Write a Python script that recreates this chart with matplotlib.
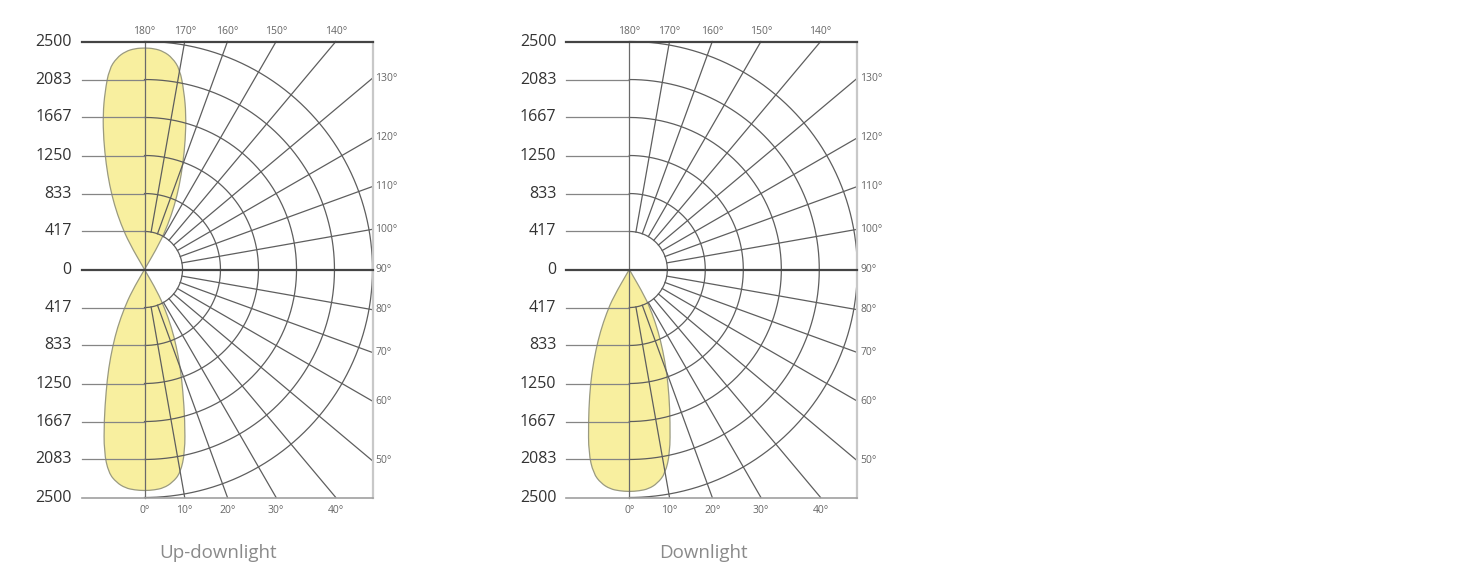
import numpy as np
import matplotlib
matplotlib.use("Agg")
import matplotlib.pyplot as plt
from matplotlib.path import Path
from matplotlib.patches import PathPatch

plt.rcParams['font.family'] = ['Open Sans', 'DejaVu Sans']

# --- data ---
# ring values (cd) and their labels
rings = [417, 833, 1250, 1667, 2083, 2500]
ring_labels = ['417', '833', '1250', '1667', '2083', '2500']
# angle labels (gamma, degrees) 0 = straight down, 180 = straight up
angle_ticks = [0, 10, 20, 30, 40, 50, 60, 70, 80, 90, 100, 110, 120, 130, 140, 150, 160, 170, 180]

# gamma (deg from the lobe axis) and intensity
gamma = [0, 2.5, 5, 7.5, 10, 12.5, 15, 17.5, 20, 22.5, 25, 27.5, 30, 32.5]
updown_lower = [2425, 2420, 2405, 2355, 2265, 2050, 1710, 1400, 1150, 910, 700, 480, 280, 0]
updown_upper = [2430, 2425, 2400, 2340, 2230, 2000, 1760, 1490, 1230, 1000, 780, 560, 330, 0]
down_lower = [2435, 2430, 2415, 2365, 2270, 2060, 1730, 1450, 1200, 960, 750, 540, 350, 0]

titles = ['Up-downlight', 'Downlight']

# --- layout (pixels) ---
W, H = 1484, 577
S = 228 / 2500.0           # pixels per cd
R = 2500
LEFT = -690                # start of the horizontal guide lines
GRID = '#5e5e5e'

fig = plt.figure(figsize=(W / 100, H / 100), dpi=100)


def lobe(ax, g, vals, up=False):
    g = np.radians(np.array(g))
    v = np.array(vals, dtype=float)
    sgn = 1 if up else -1
    # right half from the axis out to the tip, then left half back (skip axis point)
    px = np.concatenate([v * np.sin(g), (-v * np.sin(g))[::-1][:-1]])
    py = sgn * np.concatenate([v * np.cos(g), (v * np.cos(g))[::-1][:-1]])
    pts = np.column_stack([px, py])
    n = len(pts)
    # quadratic B-spline through the read points (smooth outline, pointed tip)
    mids = (pts + np.roll(pts, -1, axis=0)) / 2
    verts = [mids[-1]]
    codes = [Path.MOVETO]
    for i in range(n):
        verts += [pts[i], mids[i]]
        codes += [Path.CURVE3, Path.CURVE3]
    patch = PathPatch(Path(verts, codes), facecolor='#f8ef9f', edgecolor='#9a9a80',
                      lw=0.9, zorder=1)
    ax.add_patch(patch)


def chart(ox, oy, lobes, title):
    x0, x1 = ox - 130, ox + 290
    ax = fig.add_axes([x0 / W, 0, (x1 - x0) / W, 1])
    ax.set_xlim((x0 - ox) / S, (x1 - ox) / S)
    ax.set_ylim(-(H - oy) / S, oy / S)
    ax.axis('off')

    for g, vals, up in lobes:
        lobe(ax, g, vals, up)

    t = np.linspace(0, np.pi, 300)
    for r in rings:
        ax.plot(r * np.sin(t), r * np.cos(t), color=GRID, lw=0.9, zorder=2)
        if r < R:
            for s in (1, -1):
                ax.plot([LEFT, 0], [s * r, s * r], color='#858585', lw=0.9, zorder=2)

    # radial lines
    for a in range(10, 180, 10):
        if a == 90:
            continue
        th = np.radians(a)
        dx, dy = np.sin(th), -np.cos(th)
        tmax = min(R / abs(dx), R / abs(dy))
        ax.plot([417 * dx, tmax * dx], [417 * dy, tmax * dy], color=GRID, lw=0.9, zorder=2)

    ax.plot([0, 0], [-R, R], color='#6a6a6a', lw=0.9, zorder=2)
    ax.plot([R, R], [-R, R], color='#c8c8c8', lw=1.6, zorder=2)
    ax.plot([LEFT, R], [R, R], color='#444444', lw=1.6, zorder=3)
    ax.plot([LEFT, R], [0, 0], color='#444444', lw=1.6, zorder=3)
    ax.plot([LEFT, R], [-R, -R], color='#a0a0a0', lw=1.2, zorder=3)

    # value labels on the left
    lx = LEFT - 10 / S
    ax.text(lx, 0, '0', ha='right', va='center', fontsize=11.5, color='#333333')
    for r, lab in zip(rings, ring_labels):
        for s in (1, -1):
            ax.text(lx, s * r, lab, ha='right', va='center', fontsize=11.5, color='#333333')

    # angle labels
    for a in angle_ticks:
        th = np.radians(a)
        dx, dy = np.sin(th), -np.cos(th)
        lab = f'{a}\u00b0'
        off = 10 / S if dy > 0 else 13 / S
        if a in (0, 180):
            ax.text(0, dy * (R + off), lab, ha='center', va='center', fontsize=7.5, color='#666666')
            continue
        if abs(dx) >= abs(dy):
            y = R * dy / dx
            ax.text(R + 3 / S, y, lab, ha='left', va='center', fontsize=7.5, color='#666666')
        else:
            x = R * dx / abs(dy)
            y = np.sign(dy) * (R + off)
            ax.text(x, y, lab, ha='center', va='center', fontsize=7.5, color='#666666')

    ax.text(74 / S, -(553 - oy) / S, title, ha='center', va='center', fontsize=13.5, color='#8a8a8a')


chart(144.5, 269.5, [(gamma, updown_lower, False), (gamma, updown_upper, True)], titles[0])
chart(629.3, 269.5, [(gamma, down_lower, False)], titles[1])

fig.savefig('out.png', dpi=100, facecolor='white')
